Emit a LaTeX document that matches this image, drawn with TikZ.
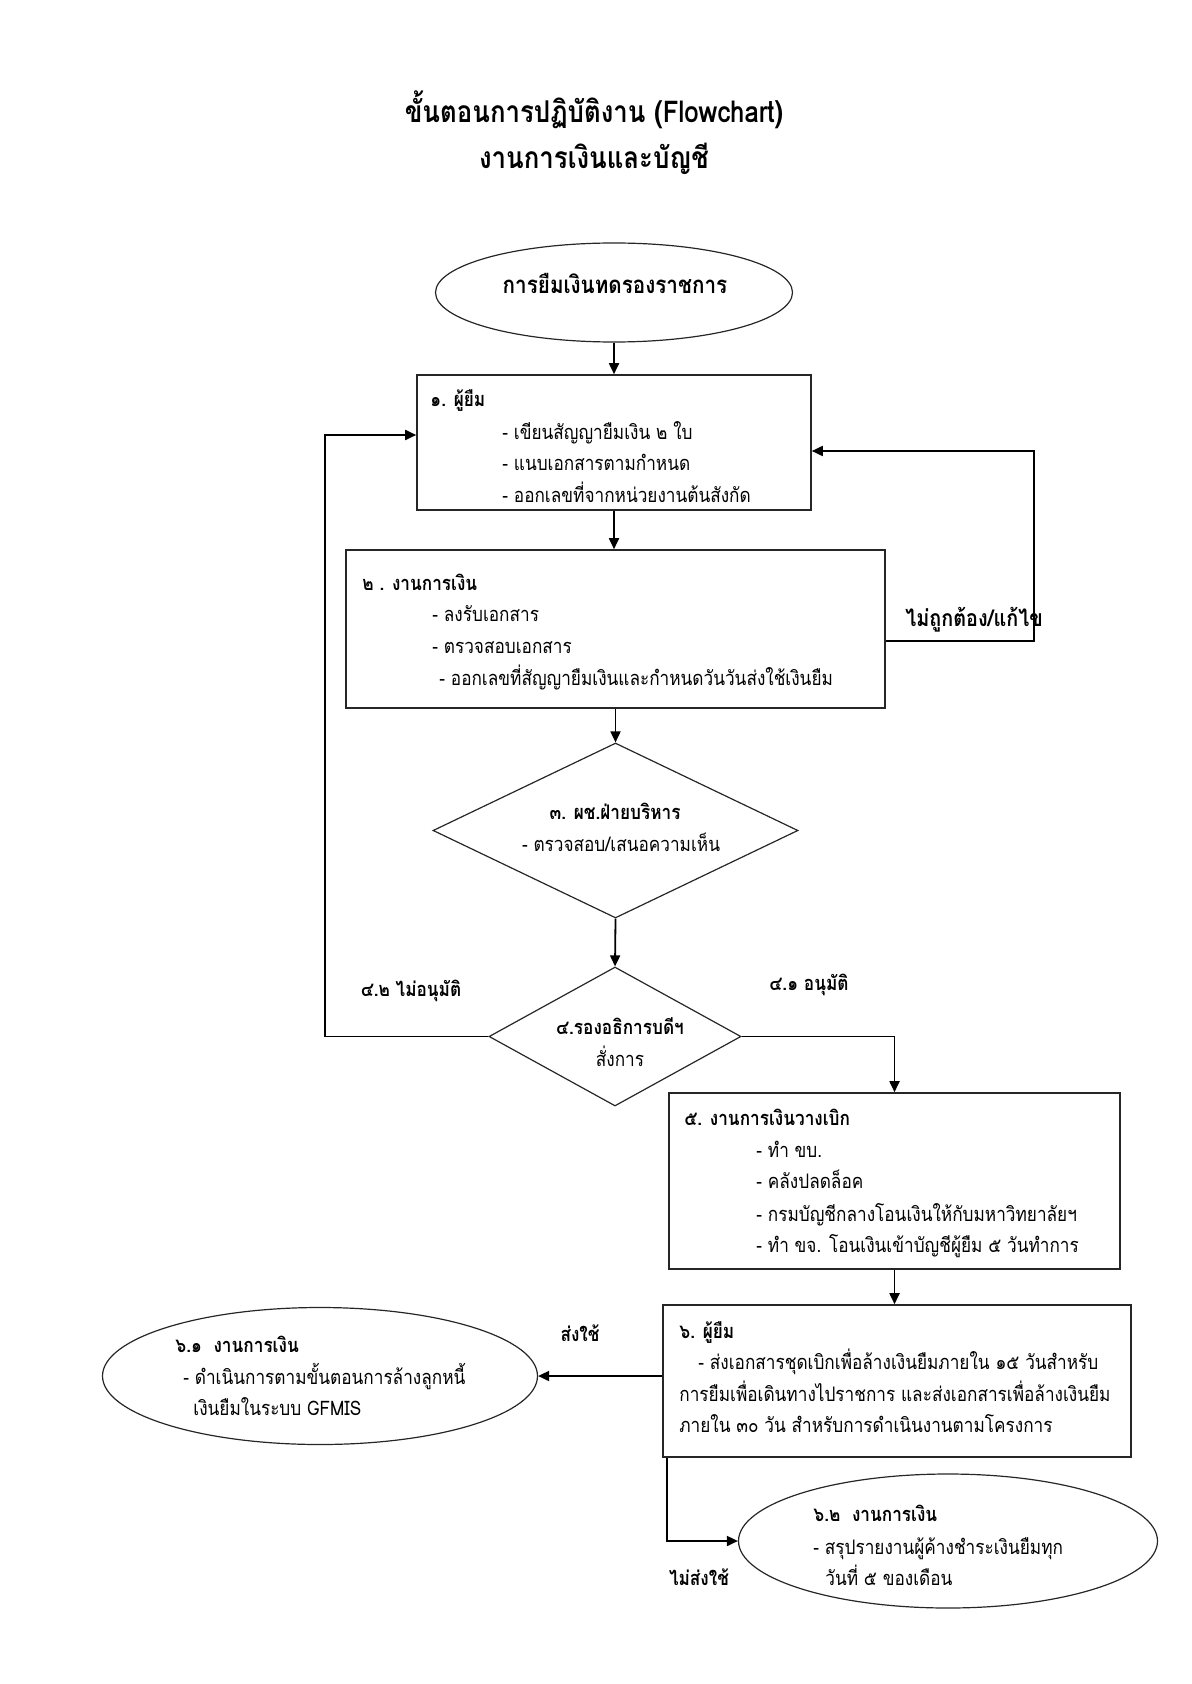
\documentclass[tikz,border=0pt]{standalone}
\usepackage{fontspec}
\setmainfont{Loma}[Script=Thai, FakeStretch=0.86]
\usetikzlibrary{shapes.geometric,arrows.meta}
\tikzset{
  box/.style={draw=black!85, line width=0.8pt, rectangle, inner sep=0pt},
  dia/.style={draw=black!85, line width=0.6pt, diamond, inner sep=0pt},
  ell/.style={draw=black!85, line width=0.6pt, ellipse, inner sep=0pt},
  arr/.style={line width=0.9pt, -{Triangle[length=5.5pt,width=5pt]}},
  txt/.style={anchor=base west, inner sep=0pt, font=\fontsize{10}{12}\selectfont},
  hd/.style={anchor=base west, inner sep=0pt, font=\fontsize{10}{12}\selectfont\bfseries},
  ctxt/.style={anchor=base, inner sep=0pt, font=\fontsize{10}{12}\selectfont},
  chd/.style={anchor=base, inner sep=0pt, font=\fontsize{10}{12}\selectfont\bfseries},
  ttl/.style={anchor=base, inner sep=0pt, font=\fontsize{15}{18}\selectfont\bfseries}
}
\begin{document}
\begin{tikzpicture}[x=0.5pt,y=-0.5pt]
\useasboundingbox (0,0) rectangle (1191,1684);
% title
\node[ttl] (t1) at (594,123) {ขั้นตอนการปฏิบัติงาน (Flowchart)};
\node[ttl] (t2) at (594,169) {งานการเงินและบัญชี};
% shapes
\node[ell, minimum width=178.5pt, minimum height=49.5pt] (e0) at (614,292.5) {};
\node[chd, font=\fontsize{12}{14}\selectfont\bfseries] (e0t) at (615,294) {การยืมเงินทดรองราชการ};

\node[box, minimum width=197pt, minimum height=67.5pt] (b1) at (614,442.5) {};
\node[hd] (b1a) at (430,407) {๑. ผู้ยืม};
\node[txt] (b1b) at (502,439) {- เขียนสัญญายืมเงิน ๒ ใบ};
\node[txt] (b1c) at (502,470) {- แนบเอกสารตามกำหนด};
\node[txt] (b1d) at (502,502) {- ออกเลขที่จากหน่วยงานต้นสังกัด};

\node[box, minimum width=269.5pt, minimum height=79pt] (b2) at (615.5,629) {};
\node[hd] (b2a) at (362,590) {๒ . งานการเงิน};
\node[txt] (b2b) at (432,621) {- ลงรับเอกสาร};
\node[txt] (b2c) at (432,653) {- ตรวจสอบเอกสาร};
\node[txt] (b2d) at (439,685) {- ออกเลขที่สัญญายืมเงินและกำหนดวันวันส่งใช้เงินยืม};
\node[hd, font=\fontsize{11.5}{14}\selectfont\bfseries] (lab1) at (905,626) {ไม่ถูกต้อง/แก้ไข};

\node[dia, minimum width=182.5pt, minimum height=87.5pt] (d3) at (615.5,830.5) {};
\node[chd] (d3a) at (615,819) {๓. ผช.ฝ่ายบริหาร};
\node[ctxt] (d3b) at (621,851) {- ตรวจสอบ/เสนอความเห็น};

\node[dia, minimum width=126pt, minimum height=69.5pt] (d4) at (615,1036.5) {};
\node[chd] (d4a) at (620,1034) {๔.รองอธิการบดีฯ};
\node[ctxt] (d4b) at (620,1066) {สั่งการ};
\node[chd] (lab42) at (411,996) {๔.๒ ไม่อนุมัติ};
\node[chd] (lab41) at (809,990) {๔.๑ อนุมัติ};

\node[box, minimum width=225.5pt, minimum height=88pt] (b5) at (894.5,1181) {};
\node[hd] (b5a) at (684,1125) {๕. งานการเงินวางเบิก};
\node[txt] (b5b) at (756,1157) {- ทำ ขบ.};
\node[txt] (b5c) at (756,1188) {- คลังปลดล็อค};
\node[txt] (b5d) at (756,1221) {- กรมบัญชีกลางโอนเงินให้กับมหาวิทยาลัยฯ};
\node[txt] (b5e) at (756,1252) {- ทำ ขจ. โอนเงินเข้าบัญชีผู้ยืม ๕ วันทำการ};

\node[box, minimum width=234pt, minimum height=76pt] (b6) at (897,1381) {};
\node[hd] (b6a) at (679,1338) {๖. ผู้ยืม};
\node[txt] (b6b) at (698,1369) {- ส่งเอกสารชุดเบิกเพื่อล้างเงินยืมภายใน ๑๕ วันสำหรับ};
\node[txt] (b6c) at (679,1401) {การยืมเพื่อเดินทางไปราชการ และส่งเอกสารเพื่อล้างเงินยืม};
\node[txt] (b6d) at (679,1432) {ภายใน ๓๐ วัน สำหรับการดำเนินงานตามโครงการ};
\node[chd] (lab6a) at (580,1341) {ส่งใช้};

\node[ell, minimum width=217.5pt, minimum height=68.5pt] (e61) at (320,1376) {};
\node[hd] (e61a) at (175,1352) {๖.๑\ \ งานการเงิน};
\node[txt] (e61b) at (183,1384) {- ดำเนินการตามขั้นตอนการล้างลูกหนี้};
\node[txt] (e61c) at (193,1415) {เงินยืมในระบบ GFMIS};

\node[ell, minimum width=209.5pt, minimum height=67pt] (e62) at (948,1541) {};
\node[hd] (e62a) at (813,1521) {๖.๒\ \ งานการเงิน};
\node[txt] (e62b) at (813,1554) {- สรุปรายงานผู้ค้างชำระเงินยืมทุก};
\node[txt] (e62c) at (825,1585) {วันที่ ๕ ของเดือน};
\node[chd] (lab6b) at (699,1585) {ไม่ส่งใช้};

% connectors
\draw[arr] (e0.south) -- (b1.north);
\draw[arr] (b1.south) -- (b1.south |- b2.north);
\draw[arr] (b2.south) -- (d3.north);
\draw[arr] (d3.south) -- (d4.north);
\coordinate (r1) at (1034,641);
\coordinate (r2) at (1034,451);
\draw[arr] (b2.east |- r1) -- (r1) -- (r2) -- (b1.east |- r2);
\coordinate (l1) at (325,1036.5);
\coordinate (l2) at (325,435);
\draw[arr] (d4.west) -- (l1) -- (l2) -- (b1.west |- l2);
\draw[arr] (d4.east) -| (b5.north);
\draw[arr] (b5.south) -- (b5.south |- b6.north);
\draw[arr] (b6.west |- e61.east) -- (e61.east);
\coordinate (c6) at ([xshift=2.5pt]b6.south west);
\draw[arr] (c6) |- (e62.west);
\end{tikzpicture}
\end{document}
